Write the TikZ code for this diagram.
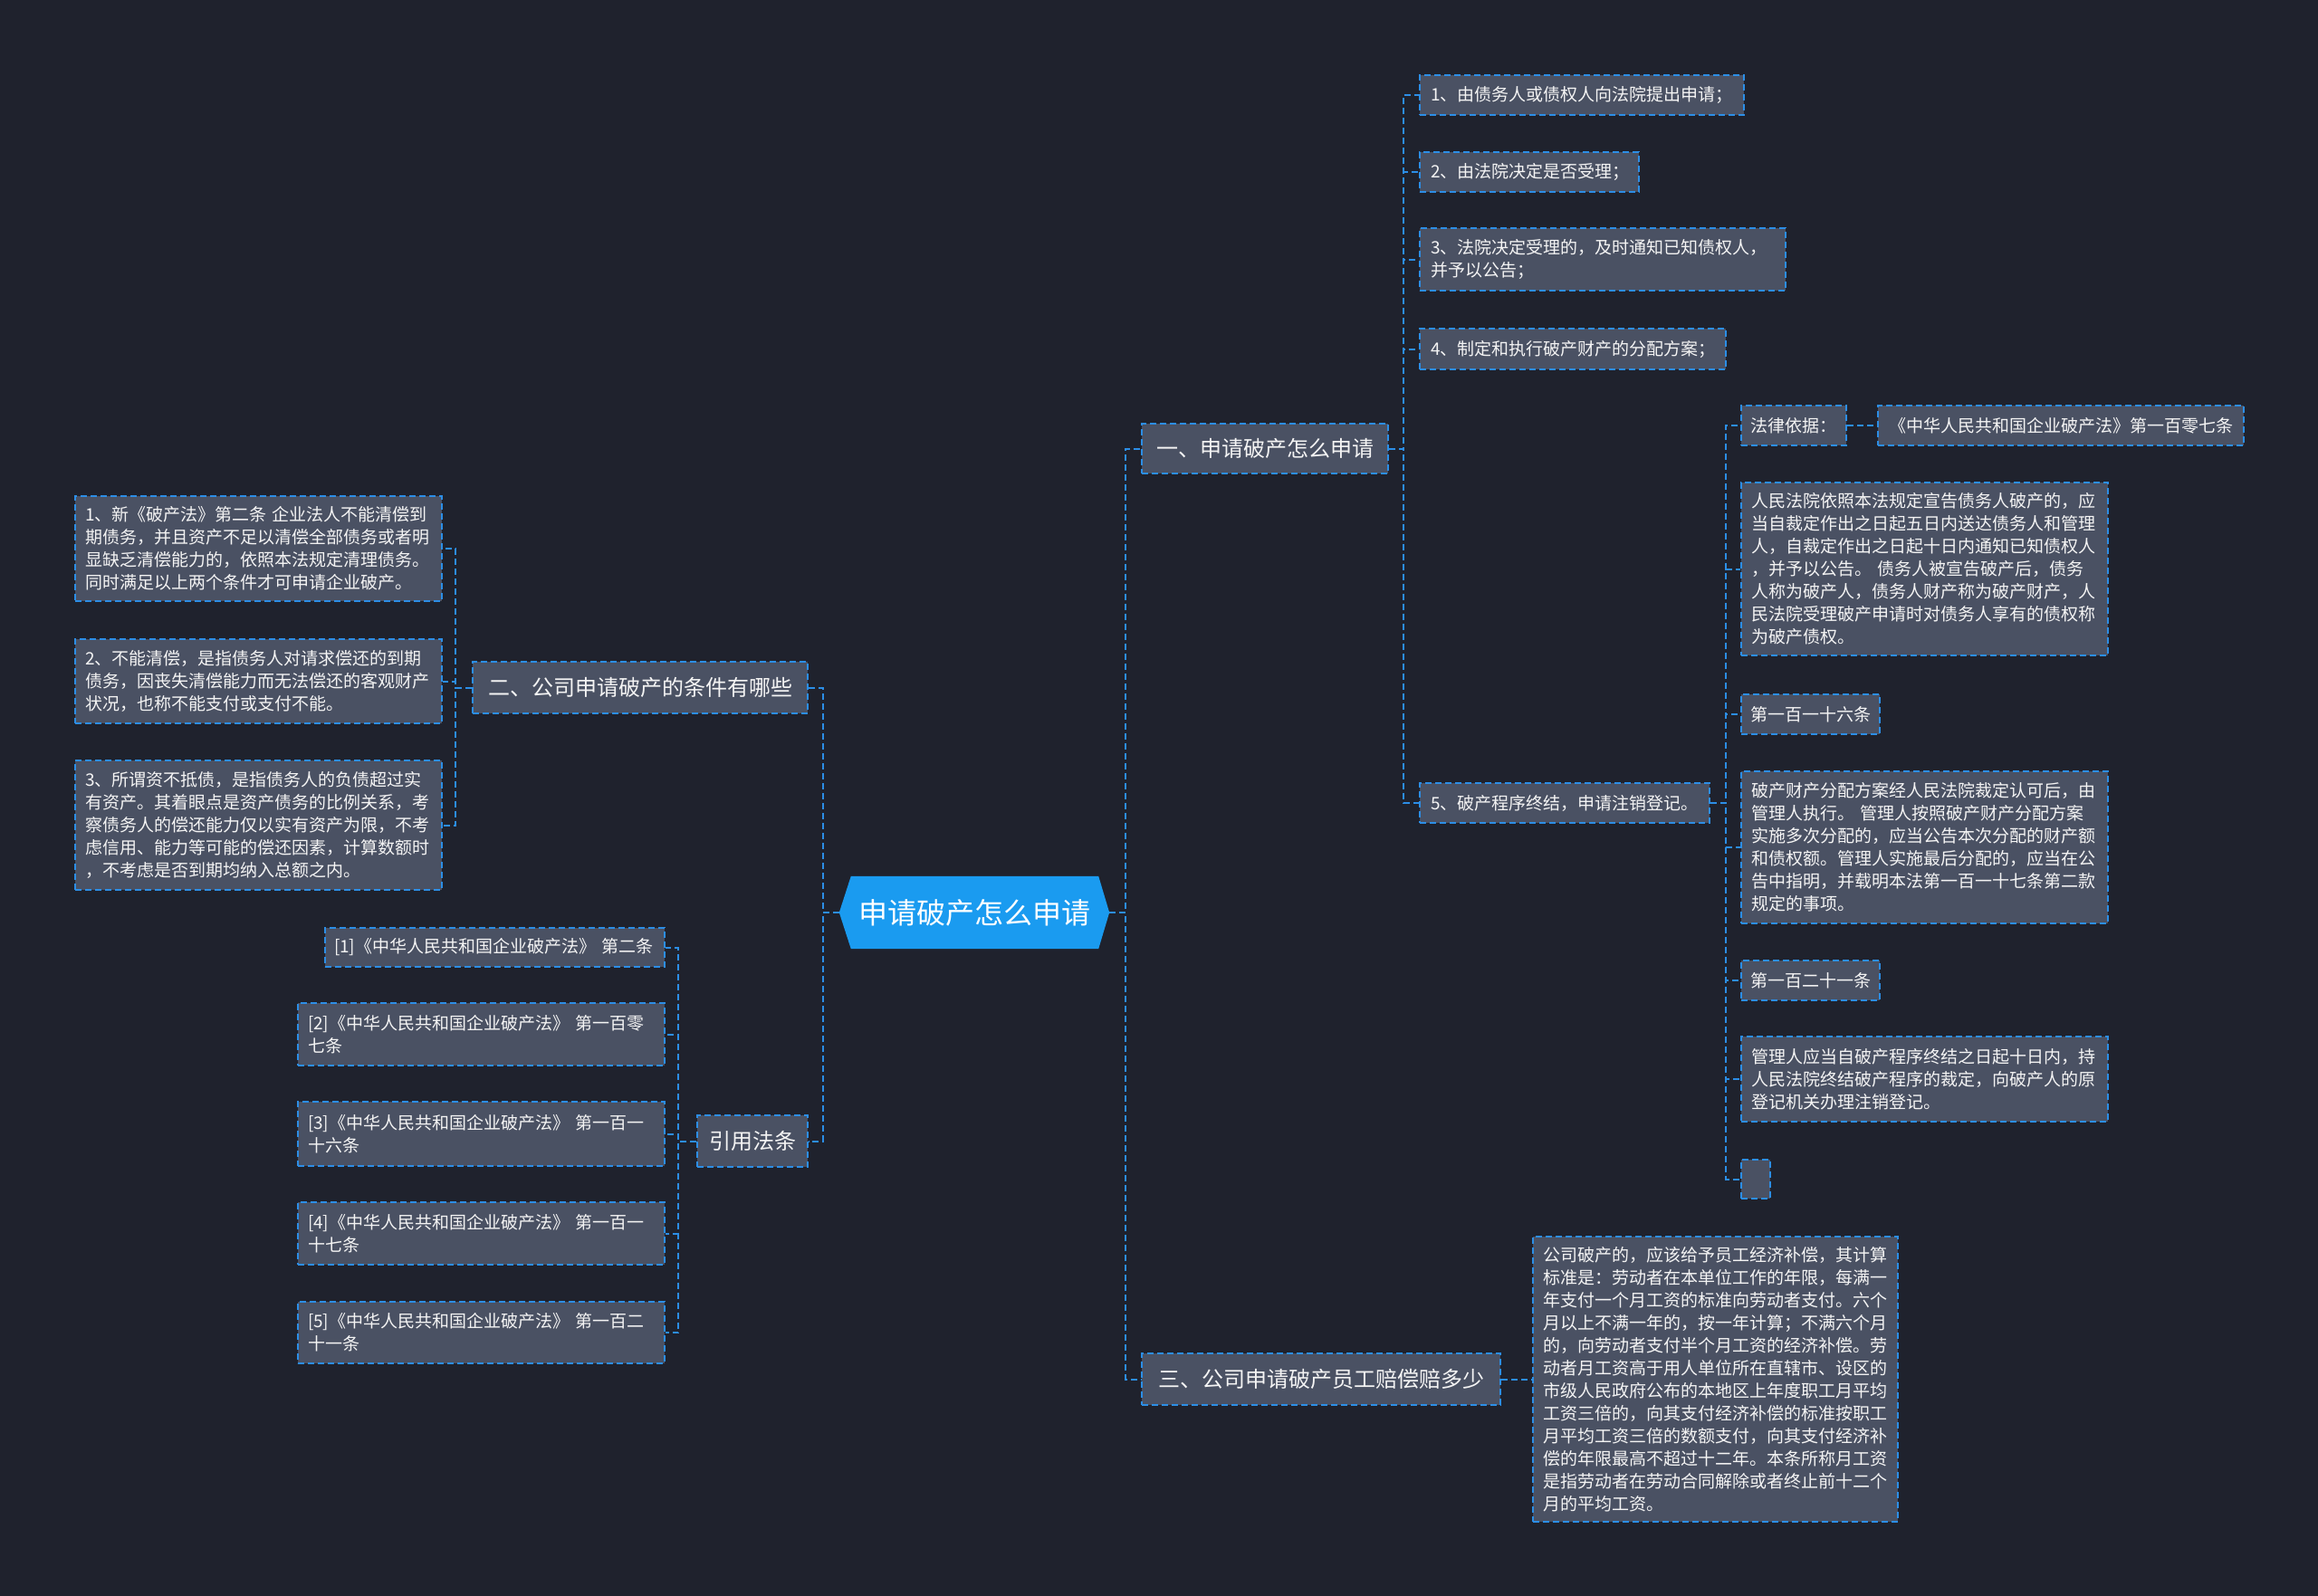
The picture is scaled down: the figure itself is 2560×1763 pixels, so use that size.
\documentclass[tikz,border=0pt]{standalone}
\usepackage{fontspec}
\newfontfamily\cjk{Noto Sans CJK SC}
\definecolor{bgc}{HTML}{1F222D}
\definecolor{boxc}{HTML}{4A5163}
\definecolor{bordc}{HTML}{2C8EE6}
\definecolor{rootc}{HTML}{1A9BF0}
\definecolor{txtc}{HTML}{F4F4F4}
\begin{document}
\begin{tikzpicture}[x=1pt,y=-1pt,
  box/.style={draw=bordc, fill=boxc, line width=2pt, dash pattern=on 7pt off 4pt, text=txtc,
    inner xsep=11pt, inner ysep=0pt, align=left, anchor=north west,
    font=\cjk\fontsize{19}{25}\selectfont},
  lvl/.style={box, align=center, inner xsep=0pt, font=\cjk\fontsize{24}{30}\selectfont},
  conn/.style={draw=bordc, line width=2pt, dash pattern=on 7pt off 4pt}]
\fill[bgc] (0,0) rectangle (2560,1763);
\useasboundingbox (0,0) rectangle (2560,1763);

% root
\path node[minimum width=298pt, minimum height=80pt, inner sep=0pt] (root) at (1076,1008) {};
\fill[rootc] (root.west) -- ([xshift=13pt]root.north west) -- ([xshift=-12pt]root.north east) -- (root.east)
  -- ([xshift=-12pt]root.south east) -- ([xshift=13pt]root.south west) -- cycle;
\node[text=white, font=\cjk\fontsize{32}{38}\selectfont] (roottxt) at (root.center) {申请破产怎么申请};

% level 1
\node[lvl, text width=272pt, minimum height=55pt] (n1) at (1260,467) {一、申请破产怎么申请};
\node[lvl, text width=396pt, minimum height=57pt] (n3) at (1260,1494) {三、公司申请破产员工赔偿赔多少};
\node[lvl, text width=370pt, minimum height=57pt] (n2) at (521,730) {二、公司申请破产的条件有哪些};
\node[lvl, text width=122pt, minimum height=57pt] (nr) at (769,1231) {引用法条};

% level 2 right
\node[box, inner xsep=12pt, text width=334pt, minimum height=44pt] (n1a) at (1567,82) {1、由债务人或债权人向法院提出申请；};
\node[box, inner xsep=12pt, text width=218pt, minimum height=44pt] (n1b) at (1567,167) {2、由法院决定是否受理；};
\node[box, inner xsep=12pt, text width=380pt, minimum height=69pt] (n1c) at (1567,251) {3、法院决定受理的，及时通知已知债权人，\\并予以公告；};
\node[box, inner xsep=12pt, text width=314pt, minimum height=45pt] (n1d) at (1567,362) {4、制定和执行破产财产的分配方案；};
\node[box, inner xsep=12pt, text width=296pt, minimum height=44pt] (n1e) at (1567,864) {5、破产程序终结，申请注销登记。};

% level 3
\node[box, inner xsep=10pt, text width=96pt, minimum height=44pt] (la) at (1922,447) {法律依据：};
\node[box, align=center, inner xsep=12pt, text width=380pt, minimum height=44pt] (lb) at (2073,447) {《中华人民共和国企业破产法》第一百零七条};
\node[box, text width=383pt, minimum height=191pt] (pb) at (1922,532) {人民法院依照本法规定宣告债务人破产的，应\\当自裁定作出之日起五日内送达债务人和管理\\人，自裁定作出之日起十日内通知已知债权人\\，并予以公告。~债务人被宣告破产后，债务\\人称为破产人，债务人财产称为破产财产，人\\民法院受理破产申请时对债务人享有的债权称\\为破产债权。};
\node[box, inner xsep=10pt, text width=133pt, minimum height=44pt] (c116) at (1922,766) {第一百一十六条};
\node[box, text width=383pt, minimum height=168pt] (pd) at (1922,851) {破产财产分配方案经人民法院裁定认可后，由\\管理人执行。~管理人按照破产财产分配方案\\实施多次分配的，应当公告本次分配的财产额\\和债权额。管理人实施最后分配的，应当在公\\告中指明，并载明本法第一百一十七条第二款\\规定的事项。};
\node[box, inner xsep=10pt, text width=133pt, minimum height=44pt] (c121) at (1922,1060) {第一百二十一条};
\node[box, text width=383pt, minimum height=94pt] (pf) at (1922,1144) {管理人应当自破产程序终结之日起十日内，持\\人民法院终结破产程序的裁定，向破产人的原\\登记机关办理注销登记。};
\node[box, inner xsep=12pt, text width=8pt, minimum height=43pt] (emp) at (1922,1280) {};

% under 三
\node[box, text width=381pt, minimum height=315pt] (p3) at (1692,1365) {公司破产的，应该给予员工经济补偿，其计算\\标准是：劳动者在本单位工作的年限，每满一\\年支付一个月工资的标准向劳动者支付。六个\\月以上不满一年的，按一年计算；不满六个月\\的，向劳动者支付半个月工资的经济补偿。劳\\动者月工资高于用人单位所在直辖市、设区的\\市级人民政府公布的本地区上年度职工月平均\\工资三倍的，向其支付经济补偿的标准按职工\\月平均工资三倍的数额支付，向其支付经济补\\偿的年限最高不超过十二年。本条所称月工资\\是指劳动者在劳动合同解除或者终止前十二个\\月的平均工资。};

% left: under 二
\node[box, text width=383pt, minimum height=116pt] (c1) at (82,547) {1、新《破产法》第二条~企业法人不能清偿到\\期债务，并且资产不足以清偿全部债务或者明\\显缺乏清偿能力的，依照本法规定清理债务。\\同时满足以上两个条件才可申请企业破产。};
\node[box, text width=383pt, minimum height=93pt] (c2) at (82,705) {2、不能清偿，是指债务人对请求偿还的到期\\债务，因丧失清偿能力而无法偿还的客观财产\\状况，也称不能支付或支付不能。};
\node[box, text width=383pt, minimum height=143pt] (c3) at (82,839) {3、所谓资不抵债，是指债务人的负债超过实\\有资产。其着眼点是资产债务的比例关系，考\\察债务人的偿还能力仅以实有资产为限，不考\\虑信用、能力等可能的偿还因素，计算数额时\\，不考虑是否到期均纳入总额之内。};

% left: under 引用法条
\node[box, inner xsep=10pt, text width=355pt, minimum height=43pt] (r1) at (358,1024) {[1]《中华人民共和国企业破产法》~第二条};
\node[box, text width=383pt, minimum height=69pt] (r2) at (328,1107) {[2]《中华人民共和国企业破产法》~第一百零\\七条};
\node[box, text width=383pt, minimum height=71pt] (r3) at (328,1216) {[3]《中华人民共和国企业破产法》~第一百一\\十六条};
\node[box, text width=383pt, minimum height=69pt] (r4) at (328,1327) {[4]《中华人民共和国企业破产法》~第一百一\\十七条};
\node[box, text width=383pt, minimum height=68pt] (r5) at (328,1437) {[5]《中华人民共和国企业破产法》~第一百二\\十一条};

% connectors
\draw[conn] (root.east) -- ++(18,0) |- (n1.west);
\draw[conn] (root.east) -- ++(18,0) |- (n3.west);
\draw[conn] (root.west) -- ++(-18,0) |- (n2.east);
\draw[conn] (root.west) -- ++(-18,0) |- (nr.east);
\foreach \c in {n1a,n1b,n1c,n1d,n1e}{\draw[conn] (n1.east) -- ++(16,0) |- (\c.west);}
\foreach \c in {la,pb,c116,pd,c121,pf,emp}{\draw[conn] (n1e.east) -- ++(17,0) |- (\c.west);}
\draw[conn] (la.east) -- (lb.west);
\draw[conn] (n3.east) -- (p3.west);
\foreach \c in {c1,c2,c3}{\draw[conn] (n2.west) -- ++(-18,0) |- (\c.east);}
\foreach \c in {r1,r2,r3,r4,r5}{\draw[conn] (nr.west) -- ++(-20,0) |- (\c.east);}
\end{tikzpicture}
\end{document}
